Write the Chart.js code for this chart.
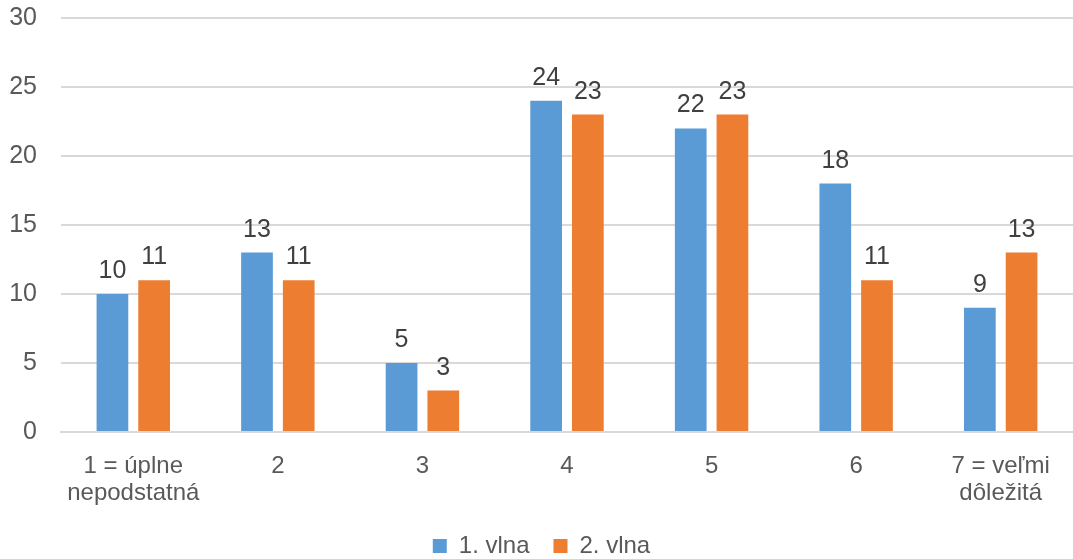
<!DOCTYPE html>
<html lang="sk">
<head>
    <meta charset="UTF-8">
    <title>Graf</title>
    <script src="https://cdn.jsdelivr.net/npm/chart.js"></script>
    <style>
        html, body { margin: 0; padding: 0; background: #ffffff; }
        .wrap { width: 1073px; height: 559px; }
    </style>
</head>
<body>
    <div class="wrap"><canvas id="graf"></canvas></div>
    <script>
        const kategorie = [
            ["1 = úplne", "nepodstatná"], "2", "3", "4", "5", "6", ["7 = veľmi", "dôležitá"]
        ];
        const vlna1 = [10, 13, 5, 24, 22, 18, 9];
        const vlna2 = [11, 11, 3, 23, 23, 11, 13];
        const nazvySerii = ["1. vlna", "2. vlna"];
        const ySkala = [0, 5, 10, 15, 20, 25, 30];

        const pismo = "'Liberation Sans', Arial, sans-serif";

        // popisky hodnot nad stlpcami
        const popisky = {
            id: 'popisky',
            afterDatasetsDraw(chart) {
                const ctx = chart.ctx;
                ctx.save();
                ctx.font = "25px " + pismo;
                ctx.fillStyle = "#404040";
                ctx.textAlign = "center";
                ctx.textBaseline = "alphabetic";
                chart.data.datasets.forEach((ds, i) => {
                    chart.getDatasetMeta(i).data.forEach((bar, j) => {
                        ctx.fillText(ds.data[j], bar.x, bar.y - 16);
                    });
                });
                ctx.restore();
            }
        };

        new Chart(document.getElementById("graf"), {
            type: 'bar',
            data: {
                labels: kategorie,
                datasets: [
                    { label: nazvySerii[0], data: vlna1, backgroundColor: '#5b9bd5' },
                    { label: nazvySerii[1], data: vlna2, backgroundColor: '#ed7d31' }
                ]
            },
            options: {
                responsive: true,
                maintainAspectRatio: false,
                animation: false,
                categoryPercentage: 0.577,
                barPercentage: 0.76,
                layout: { padding: { top: 18, left: 10, right: 0, bottom: -9 } },
                plugins: {
                    tooltip: { enabled: false },
                    legend: {
                        position: 'bottom',
                        labels: {
                            font: { family: pismo, size: 24 },
                            color: '#595959',
                            boxWidth: 14,
                            boxHeight: 14,
                            padding: 24
                        }
                    }
                },
                scales: {
                    x: {
                        grid: { display: false, drawTicks: false },
                        border: { color: '#d9d9d9', width: 2 },
                        ticks: {
                            font: { family: pismo, size: 24, lineHeight: 1.125 },
                            color: '#595959',
                            padding: 21,
                            maxRotation: 0,
                            autoSkip: false
                        },
                        afterFit(axis) {
                            axis.paddingLeft = 0;
                            axis.paddingRight = 0;
                            axis.height = 78;
                        }
                    },
                    y: {
                        min: ySkala[0],
                        max: ySkala[ySkala.length - 1],
                        afterBuildTicks(axis) {
                            axis.ticks = ySkala.map(v => ({ value: v }));
                        },
                        grid: { color: '#d9d9d9', lineWidth: 2, drawTicks: false },
                        border: { display: false },
                        ticks: {
                            font: { family: pismo, size: 25 },
                            color: '#595959',
                            padding: 24
                        },
                        afterFit(axis) {
                            axis.paddingTop = 0;
                            axis.paddingBottom = 0;
                            axis.width = 51;
                        }
                    }
                }
            },
            plugins: [popisky]
        });
    </script>
</body>
</html>
